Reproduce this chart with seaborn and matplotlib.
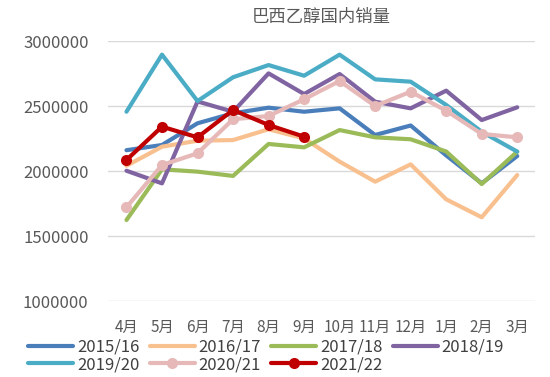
import matplotlib
matplotlib.use("Agg")
import matplotlib.pyplot as plt
import seaborn as sns
import pandas as pd

months = ["4月", "5月", "6月", "7月", "8月", "9月", "10月", "11月", "12月", "1月", "2月", "3月"]

s2015 = [2160000, 2200000, 2367000, 2444000, 2487000, 2456000, 2482000, 2277000, 2350000, 2120000, 1905000, 2115000]
s2016 = [2040000, 2187000, 2233000, 2238000, 2321000, 2250000, 2072000, 1918000, 2051000, 1782000, 1644000, 1969000]
s2017 = [1623000, 2013000, 1995000, 1962000, 2208000, 2182000, 2315000, 2259000, 2244000, 2150000, 1900000, 2149000]
s2018 = [2002000, 1905000, 2535000, 2456000, 2751000, 2592000, 2746000, 2533000, 2482000, 2618000, 2392000, 2490000]
s2019 = [2456000, 2895000, 2538000, 2721000, 2815000, 2733000, 2895000, 2705000, 2687000, 2508000, 2302000, 2149000]
s2020 = [1721000, 2046000, 2136000, 2398000, 2423000, 2552000, 2692000, 2500000, 2610000, 2464000, 2285000, 2259000]
s2021 = [2085000, 2341000, 2259000, 2469000, 2354000, 2264000]

series = {
    "2015/16": s2015,
    "2016/17": s2016,
    "2017/18": s2017,
    "2018/19": s2018,
    "2019/20": s2019,
    "2020/21": s2020,
    "2021/22": s2021,
}
colors = ["#4A7EBB", "#F9C08F", "#9BBB59", "#8064A2", "#4BACC6", "#E6B9B8", "#C00000"]
markers = [None, None, None, None, None, "o", "o"]

sns.set_style("white")
plt.rcParams["font.family"] = ["Noto Sans CJK SC", "DejaVu Sans"]

fig = plt.figure(figsize=(5.5, 3.77), dpi=100)
ax = fig.add_axes([108 / 550, 1 - 301 / 377, 427 / 550, 260 / 377])

for i, (name, vals) in enumerate(series.items()):
    df = pd.DataFrame({"month": months[:len(vals)], "value": vals})
    sns.lineplot(data=df, x="month", y="value", ax=ax, color=colors[i], lw=3,
                 marker=markers[i], markersize=8, markeredgewidth=0,
                 sort=False, label=name, zorder=2 + i)

ax.set_ylim(1000000, 3000000)
ax.set_xlim(-0.52, 11.5)
ax.set_yticks([1000000, 1500000, 2000000, 2500000, 3000000])
ax.set_yticklabels(["1000000", "1500000", "2000000", "2500000", "3000000"])
ax.yaxis.grid(True, color="#D9D9D9", lw=1)
ax.set_axisbelow(True)
for sp in ax.spines.values():
    sp.set_visible(False)
ax.tick_params(axis="both", length=0, colors="#595959")
ax.tick_params(axis="y", pad=14, labelsize=12)
ax.tick_params(axis="x", pad=13, labelsize=11)
ax.set_xlabel("")
ax.set_ylabel("")
ax.set_title("巴西乙醇国内销量", fontsize=12.5, color="#595959", pad=14)

handles, labels = ax.get_legend_handles_labels()
ax.get_legend().remove()
order = [0, 4, 1, 5, 2, 6, 3]
fig.legend([handles[i] for i in order], [labels[i] for i in order],
           ncol=4, loc="upper left", bbox_to_anchor=(28 / 550, 1 - 339 / 377),
           frameon=False, fontsize=12, handlelength=2.7, handletextpad=0.25,
           columnspacing=0.6, labelspacing=0.0, borderpad=0, borderaxespad=0,
           labelcolor="#404040")

fig.savefig("out.png", dpi=100)
